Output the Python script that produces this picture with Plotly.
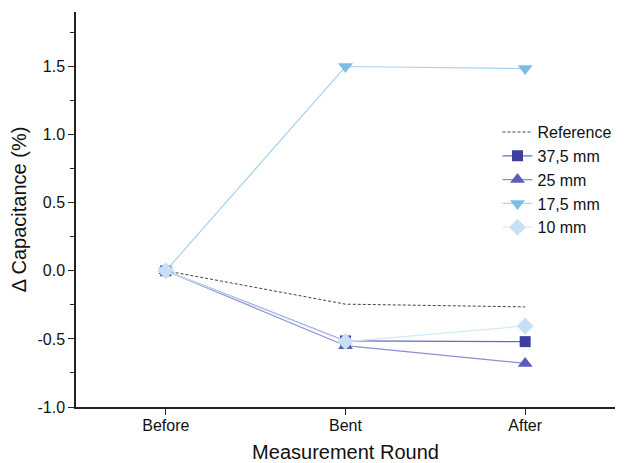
import plotly.graph_objects as go

rounds = ["Before", "Bent", "After"]
reference = [0.0, -0.245, -0.265]
s37_5 = [0.0, -0.515, -0.52]
s25 = [0.0, -0.55, -0.68]
s17_5 = [0.0, 1.50, 1.485]
s10 = [0.0, -0.52, -0.405]

fig = go.Figure()
fig.add_trace(go.Scatter(x=rounds, y=reference, name="Reference", mode="lines",
                         line=dict(color="#444444", width=1, dash="3px,2px")))
fig.add_trace(go.Scatter(x=rounds, y=s37_5, name="37,5 mm", mode="lines+markers",
                         line=dict(color="#6a6ac2", width=1.2),
                         marker=dict(symbol="square", size=11, color="#3f3fa0")))
fig.add_trace(go.Scatter(x=rounds, y=s25, name="25 mm", mode="lines+markers",
                         line=dict(color="#8a8ed8", width=1.2),
                         marker=dict(symbol="triangle-up", size=13, color="#5a5fbd")))
fig.add_trace(go.Scatter(x=rounds, y=s17_5, name="17,5 mm", mode="lines+markers",
                         line=dict(color="#a9d3f0", width=1.2),
                         marker=dict(symbol="triangle-down", size=13, color="#7cbde6")))
fig.add_trace(go.Scatter(x=rounds, y=s10, name="10 mm", mode="lines+markers",
                         line=dict(color="#d3e9f8", width=1.2),
                         marker=dict(symbol="diamond", size=13, color="#c6e1f5")))

# the page body adds an 8px offset, so the figure is 8px smaller and margins compensate
fig.update_layout(
    width=624, height=455,
    margin=dict(l=67.5, r=17, t=4, b=56),
    plot_bgcolor="white", paper_bgcolor="white",
    font=dict(family="Liberation Sans, Arial, sans-serif", color="#111111"),
    showlegend=True,
    legend=dict(x=0.782, y=0.739, xanchor="left", yanchor="top",
                font=dict(size=16, color="#111111"), bgcolor="rgba(0,0,0,0)",
                tracegroupgap=0),
    xaxis=dict(type="category", range=[-0.5, 2.5], showgrid=False, zeroline=False,
               automargin=False,
               showline=True, linecolor="#222222", linewidth=1.5,
               ticks="outside", ticklen=6, tickwidth=1.2, tickcolor="#222222",
               tickfont=dict(size=16), ticklabelstandoff=-3,
               title=dict(text="Measurement Round", font=dict(size=20), standoff=16)),
    yaxis=dict(range=[-1.0, 1.9], showgrid=False, zeroline=False,
               automargin=False,
               showline=True, linecolor="#222222", linewidth=1.5,
               tickmode="array", tickvals=[-1.0, -0.5, 0.0, 0.5, 1.0, 1.5],
               ticktext=["-1.0", "-0.5", "0.0", "0.5", "1.0", "1.5"],
               ticks="outside", ticklen=6, tickwidth=1.2, tickcolor="#222222",
               tickfont=dict(size=16),
               minor=dict(tickvals=[-0.75, -0.25, 0.25, 0.75, 1.25, 1.75],
                          ticks="outside", ticklen=4, tickwidth=1.2, tickcolor="#222222"),
               title=dict(text="\u0394 Capacitance (%)", font=dict(size=20), standoff=10)),
)

fig.write_html("out.html")
